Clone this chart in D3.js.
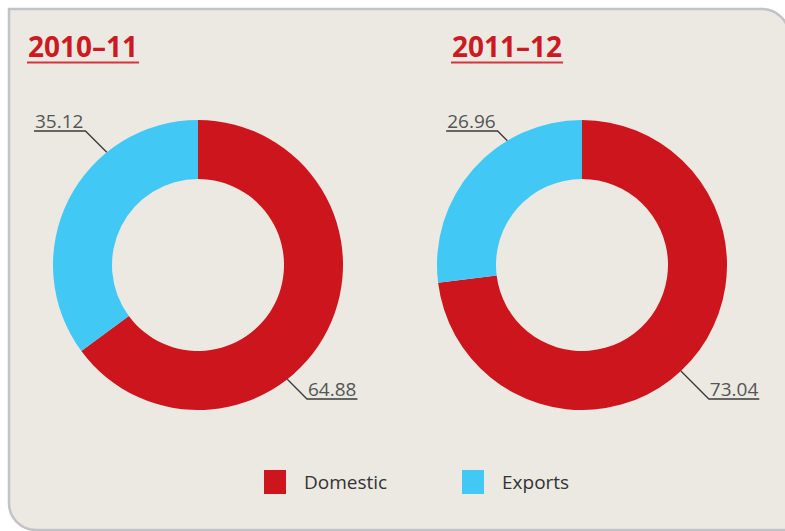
<!DOCTYPE html>
<html>
<head>
<meta charset="utf-8">
<script src="https://cdn.jsdelivr.net/npm/d3@7"></script>
<style>
  html, body { margin: 0; padding: 0; background: #ffffff; }
  svg { display: block; }
  .title { font-family: "Open Sans", sans-serif; font-weight: 700; font-size: 28px; fill: #cc1a22; }
  .value { font-family: "Open Sans", sans-serif; font-size: 19px; fill: #555555; }
  .legend text { font-family: "Open Sans", sans-serif; font-size: 19px; fill: #333333; }
</style>
</head>
<body>
<div id="chart"></div>
<script>
// data
var years = ["2010\u201311", "2011\u201312"];
var categories = ["Domestic", "Exports"];
var domestic = [64.88, 73.04];
var exportsShare = [35.12, 26.96];

var colors = ["#cc151d", "#42c8f4"];

var width = 785, height = 531;
var svg = d3.select("#chart").append("svg")
    .attr("width", width)
    .attr("height", height);

// panel with rounded top-right and bottom-left corners
var panel = {left: 9, top: 9, right: 789, bottom: 530, r: 27};
svg.append("path")
    .attr("d", "M" + panel.left + "," + panel.top +
        " H" + (panel.right - panel.r) +
        " A" + panel.r + "," + panel.r + " 0 0 1 " + panel.right + "," + (panel.top + panel.r) +
        " V" + panel.bottom +
        " H" + (panel.left + panel.r) +
        " A" + panel.r + "," + panel.r + " 0 0 1 " + panel.left + "," + (panel.bottom - panel.r) +
        " Z")
    .attr("fill", "#ebe9e2")
    .attr("stroke", "#c3c2c6")
    .attr("stroke-width", 2.5);

var outerR = 145, innerR = 86;
var centers = d3.scalePoint().domain(years).range([198, 582]);
var titleX = d3.scalePoint().domain(years).range([28, 452]);
var cy = 265;

// label layout: angle (deg) where the leader leaves each slice, per chart
var leaderAngles = [[142, 321], [137, 329]];
var elbowOffset = 134;

var pie = d3.pie().sort(null).value(function (d) { return d; });
var arc = d3.arc().innerRadius(innerR).outerRadius(outerR);

years.forEach(function (year, i) {
    var cx = centers(year);
    var g = svg.append("g").attr("transform", "translate(" + cx + "," + cy + ")");

    var values = [domestic[i], exportsShare[i]];
    g.selectAll("path.slice")
        .data(pie(values))
        .enter().append("path")
        .attr("class", "slice")
        .attr("d", arc)
        .attr("fill", function (d, j) { return colors[j]; });

    // title
    var title = svg.append("text")
        .attr("class", "title")
        .attr("x", titleX(year))
        .attr("y", 57)
        .text(year);
    var tw = title.node().getComputedTextLength();
    svg.append("line")
        .attr("x1", titleX(year) - 1).attr("x2", titleX(year) + tw + 1)
        .attr("y1", 62.5).attr("y2", 62.5)
        .attr("stroke", "#d5353d")
        .attr("stroke-width", 2);

    // value labels with leaders
    values.forEach(function (v, j) {
        var a = leaderAngles[i][j] * Math.PI / 180;
        var ax = Math.sin(a) * outerR, ay = -Math.cos(a) * outerR;
        var down = ay > 0;
        var ey = down ? elbowOffset : -elbowOffset;
        var d = Math.abs(ey - ay);
        var right = ax > 0;
        var ex = ax + (right ? d : -d);

        var t = g.append("text")
            .attr("class", "value")
            .attr("y", ey - 3)
            .text(v.toFixed(2));
        var w = t.node().getComputedTextLength();
        var tx = right ? ex + 1 : ex - w - 2;
        t.attr("x", tx);
        var ux = right ? ex + w + 2 : ex - w - 3;

        g.append("polyline")
            .attr("points", [[ax, ay], [ex, ey], [ux, ey]].map(function (p) { return p.join(","); }).join(" "))
            .attr("fill", "none")
            .attr("stroke", "#3a3a3a")
            .attr("stroke-width", 1.3);
    });
});

// legend
var legendX = d3.scalePoint().domain(categories).range([264, 462]);
var legend = svg.append("g").attr("class", "legend");
categories.forEach(function (c, j) {
    var lg = legend.append("g").attr("transform", "translate(" + legendX(c) + ",470)");
    lg.append("rect").attr("width", 22).attr("height", 24).attr("fill", colors[j]);
    lg.append("text").attr("x", 40).attr("y", 19).text(c);
});
</script>
</body>
</html>
